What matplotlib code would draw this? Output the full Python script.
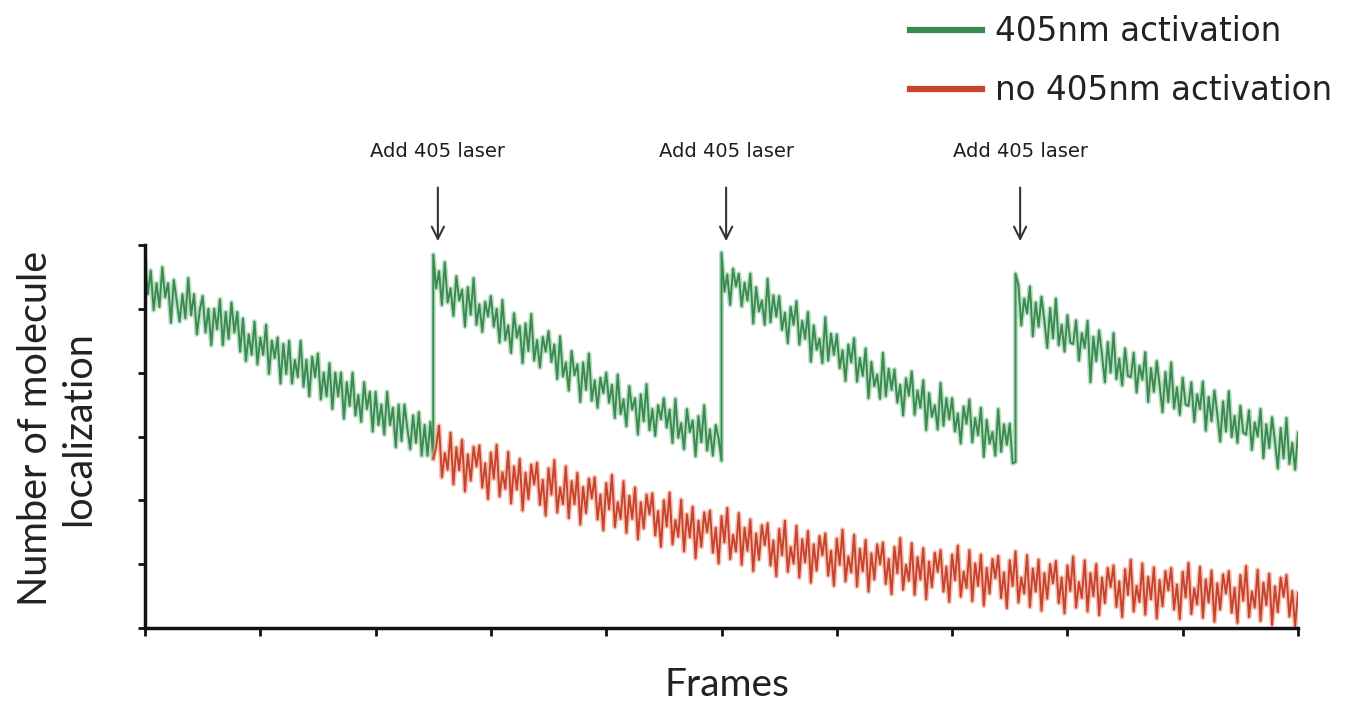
import numpy as np
import matplotlib.pyplot as plt
from matplotlib.lines import Line2D

# frames where the 405 laser is switched on
jump_frames = [250, 500, 755]
last_frame = 1000

# green trace (405nm activation), one list per segment between laser pulses
green_seg1 = [5.75, 5.23, 5.6, 4.98, 5.4, 5.03, 5.65, 5.18, 5.4, 4.78,
              5.45, 5.13, 4.8, 5.23, 4.85, 5.48, 4.9, 5.23, 4.6, 4.98,
              5.2, 4.63, 5.0, 4.43, 5.0, 4.68, 5.15, 4.43, 4.95, 4.53,
              5.1, 4.63, 4.95, 4.33, 4.85, 4.18, 4.6, 4.28, 4.8, 4.13,
              4.55, 4.28, 4.75, 3.98, 4.5, 4.23, 4.55, 3.83, 4.45, 3.98,
              4.5, 3.83, 4.2, 3.93, 4.5, 3.78, 4.2, 3.63, 4.25, 3.93,
              4.3, 3.58, 4.0, 3.63, 4.15, 3.43, 4.0, 3.63, 4.0, 3.28,
              3.85, 3.48, 4.0, 3.33, 3.65, 3.23, 3.85, 3.43, 3.7, 3.08,
              3.7, 3.18, 3.5, 3.03, 3.7, 3.18, 3.45, 2.83, 3.5, 2.93,
              3.5, 3.13, 2.8, 3.33, 2.9, 3.38, 2.7, 3.18, 2.7, 3.23, 2.65]
green_seg2 = [5.85, 5.32, 5.59, 5.06, 5.73, 5.1, 5.32, 4.89, 5.51, 5.13,
              5.3, 4.72, 5.34, 4.91, 5.48, 4.75, 5.07, 4.64, 5.11, 4.88,
              5.2, 4.72, 5.0, 4.47, 5.14, 4.51, 4.74, 4.31, 4.93, 4.55,
              4.73, 4.15, 4.77, 4.34, 4.92, 4.19, 4.51, 4.08, 4.56, 4.33,
              4.65, 4.17, 4.44, 3.9, 4.57, 3.94, 4.16, 3.72, 4.34, 3.96,
              4.13, 3.54, 4.16, 3.73, 4.3, 3.56, 3.88, 3.45, 3.92, 3.68,
              4.0, 3.53, 3.81, 3.29, 3.97, 3.35, 3.58, 3.16, 3.79, 3.42,
              3.6, 3.03, 3.66, 3.24, 3.82, 3.1, 3.43, 3.01, 3.49, 3.27,
              3.6, 3.14, 3.42, 2.9, 3.59, 2.98, 3.21, 2.8, 3.43, 3.07,
              3.25, 2.69, 3.32, 2.91, 3.49, 2.78, 3.11, 2.7, 3.18, 2.97, 2.62]
green_seg3 = [5.88, 5.27, 5.54, 5.06, 5.63, 5.35, 5.55, 5.04, 5.41, 5.13,
              5.55, 4.77, 5.34, 4.96, 5.13, 4.75, 5.47, 4.79, 5.21, 4.88,
              5.2, 4.67, 4.94, 4.46, 5.03, 4.75, 5.12, 4.44, 4.81, 4.53,
              4.95, 4.17, 4.74, 4.36, 4.53, 4.15, 4.87, 4.19, 4.61, 4.28,
              4.6, 4.07, 4.35, 3.87, 4.44, 4.16, 4.54, 3.86, 4.23, 3.95,
              4.38, 3.6, 4.17, 3.79, 3.97, 3.59, 4.31, 3.63, 4.06, 3.73,
              4.05, 3.53, 3.81, 3.33, 3.91, 3.64, 4.02, 3.34, 3.72, 3.45,
              3.88, 3.1, 3.68, 3.31, 3.49, 3.11, 3.84, 3.17, 3.6, 3.27,
              3.6, 3.08, 3.36, 2.89, 3.47, 3.2, 3.58, 2.91, 3.29, 3.02,
              3.45, 2.68, 3.26, 2.89, 3.07, 2.7, 3.43, 2.76, 3.19, 2.87,
              3.2, 2.58, 2.6]
green_seg4 = [5.55, 5.37, 4.74, 5.16, 4.93, 5.35, 4.57, 5.1, 4.72, 5.19,
              4.82, 4.39, 5.01, 4.54, 5.16, 4.43, 4.75, 4.33, 4.9, 4.47,
              4.45, 4.82, 4.19, 4.62, 4.39, 4.81, 3.85, 4.56, 4.18, 4.66,
              4.28, 3.85, 4.48, 4.0, 4.62, 3.9, 4.22, 3.8, 4.38, 3.95,
              3.93, 4.31, 3.69, 4.11, 3.89, 4.32, 3.54, 4.07, 3.7, 4.18,
              3.8, 3.38, 4.01, 3.54, 4.16, 3.44, 3.77, 3.34, 3.92, 3.5,
              3.48, 3.85, 3.23, 3.66, 3.43, 3.86, 3.09, 3.62, 3.24, 3.72,
              3.35, 2.92, 3.55, 3.08, 3.71, 2.99, 3.32, 2.9, 3.48, 3.06,
              3.03, 3.41, 2.79, 3.22, 3.0, 3.43, 2.66, 3.19, 2.82, 3.3,
              2.92, 2.5, 3.13, 2.66, 3.29, 2.57, 2.9, 2.48, 3.06]

# red trace (no 405nm activation), from the first pulse to the end
red_vals = [2.65, 2.84, 3.17, 2.36, 2.74, 2.48, 3.06, 2.25, 2.83, 2.47,
            2.95, 2.14, 2.72, 2.31, 2.84, 2.53, 2.86, 2.2, 2.58, 2.02,
            2.75, 2.34, 2.87, 2.06, 2.44, 2.18, 2.76, 1.95, 2.53, 2.17,
            2.65, 1.84, 2.43, 2.02, 2.56, 2.25, 2.59, 1.93, 2.32, 1.76,
            2.5, 2.09, 2.63, 1.81, 2.2, 1.94, 2.53, 1.72, 2.3, 1.94,
            2.43, 1.62, 2.21, 1.8, 2.34, 2.03, 2.36, 1.7, 2.09, 1.53,
            2.27, 1.86, 2.4, 1.58, 1.97, 1.71, 2.3, 1.49, 2.07, 1.71,
            2.2, 1.39, 1.97, 1.56, 2.09, 1.78, 2.11, 1.45, 1.83, 1.27,
            2.0, 1.59, 2.12, 1.31, 1.69, 1.43, 2.01, 1.2, 1.78, 1.42,
            1.9, 1.09, 1.68, 1.27, 1.81, 1.5, 1.84, 1.18, 1.57, 1.01,
            1.75, 1.34, 1.88, 1.08, 1.46, 1.2, 1.8, 0.99, 1.57, 1.21,
            1.7, 0.89, 1.48, 1.07, 1.61, 1.3, 1.64, 0.98, 1.37, 0.81,
            1.55, 1.14, 1.68, 0.88, 1.27, 1.01, 1.6, 0.79, 1.39, 1.03,
            1.52, 0.71, 1.31, 0.9, 1.44, 1.14, 1.48, 0.82, 1.21, 0.66,
            1.4, 0.99, 1.54, 0.73, 1.12, 0.87, 1.46, 0.65, 1.24, 0.89,
            1.38, 0.57, 1.17, 0.76, 1.31, 1.0, 1.34, 0.69, 1.08, 0.53,
            1.27, 0.86, 1.41, 0.6, 0.99, 0.74, 1.33, 0.52, 1.11, 0.76,
            1.25, 0.45, 1.04, 0.64, 1.18, 0.88, 1.22, 0.57, 0.96, 0.41,
            1.15, 0.75, 1.29, 0.49, 0.88, 0.63, 1.22, 0.42, 1.01, 0.66,
            1.15, 0.35, 0.94, 0.54, 1.08, 0.78, 1.13, 0.47, 0.87, 0.31,
            1.06, 0.66, 1.2, 0.4, 0.79, 0.54, 1.14, 0.33, 0.93, 0.57,
            1.07, 0.27, 0.86, 0.46, 1.0, 0.7, 1.05, 0.39, 0.79, 0.23,
            0.98, 0.58, 1.12, 0.32, 0.72, 0.47, 1.06, 0.26, 0.86, 0.5,
            1.0, 0.2, 0.79, 0.39, 0.94, 0.64, 0.98, 0.33, 0.73, 0.17,
            0.92, 0.52, 1.07, 0.26, 0.66, 0.41, 1.01, 0.21, 0.8, 0.45,
            0.95, 0.15, 0.75, 0.34, 0.89, 0.59, 0.94, 0.29, 0.68, 0.14,
            0.88, 0.48, 1.02, 0.22, 0.62, 0.37, 0.96, 0.16, 0.76, 0.4,
            0.9, 0.1, 0.7, 0.29, 0.84, 0.54, 0.89, 0.24, 0.63, 0.08,
            0.83, 0.43, 0.97, 0.17, 0.57, 0.32, 0.91, 0.11, 0.71, 0.36,
            0.85, 0.05, 0.65, 0.25, 0.79, 0.49, 0.83, 0.18, 0.58, 0.03,
            0.55]

legend_labels = ["405nm activation", "no 405nm activation"]
green = "#3a8a52"
green_light = "#9ed3a8"
red = "#c8432d"
red_light = "#f2a892"

# frame axis for each green segment
bounds = [0] + jump_frames + [last_frame]
segs = [green_seg1, green_seg2, green_seg3, green_seg4]
gx, gy = [], []
for i, s in enumerate(segs):
    gx.extend(np.linspace(bounds[i], bounds[i + 1], len(s)))
    gy.extend(s)
rx = np.linspace(jump_frames[0], last_frame, len(red_vals))

fig = plt.figure(figsize=(13.63, 7.06), dpi=100)
ax = fig.add_axes([145 / 1363, 1 - 628 / 706, 1153 / 1363, 383 / 706])

ax.plot(gx, gy, color=green_light, lw=3.6, alpha=0.7)
ax.plot(gx, gy, color=green, lw=1.4)
ax.plot(rx, red_vals, color=red_light, lw=3.6, alpha=0.7)
ax.plot(rx, red_vals, color=red, lw=1.4)

ax.set_xlim(0, last_frame)
ax.set_ylim(0, 6)
ax.set_xticks(np.arange(0, last_frame + 1, 100))
ax.set_yticks(np.arange(0, 7, 1))
ax.set_xticklabels([])
ax.set_yticklabels([])
ax.tick_params(axis="x", direction="out", length=6, width=2, color="#111")
ax.tick_params(axis="y", direction="out", length=5, width=2, color="#111")
for side in ["top", "right"]:
    ax.spines[side].set_visible(False)
for side in ["left", "bottom"]:
    ax.spines[side].set_linewidth(2.5)
    ax.spines[side].set_color("#111")

ax.set_xlabel("Frames", fontsize=28, family="Lato", color="#222", va="center")
ax.xaxis.set_label_coords(0.505, -0.149)
ax.set_ylabel("Number of molecule\nlocalization", fontsize=28.5, family="Lato",
              color="#222", va="center", ha="center", linespacing=1.2)
ax.yaxis.set_label_coords(-0.076, 0.52)

# laser annotations
for f in jump_frames:
    ax.annotate("", xy=(f + 4, 6.06), xytext=(f + 4, 6.9),
                arrowprops=dict(arrowstyle="->", lw=1.5, color="#333",
                                mutation_scale=22, shrinkA=0, shrinkB=0),
                annotation_clip=False)
    ax.text(f + 4, 7.46, "Add 405 laser", ha="center", va="center",
            fontsize=14, color="#1e1e1e", clip_on=False)

handles = [Line2D([], [], color=green, lw=4.5), Line2D([], [], color=red, lw=4.5)]
fig.legend(handles, legend_labels, loc="upper left",
           bbox_to_anchor=(910 / 1363, 1 - 15 / 706), frameon=False,
           fontsize=23.5, handlelength=2.2, handletextpad=0.4,
           labelspacing=0.8, borderpad=0, borderaxespad=0, labelcolor="#222")

fig.savefig("out.png", dpi=100)
